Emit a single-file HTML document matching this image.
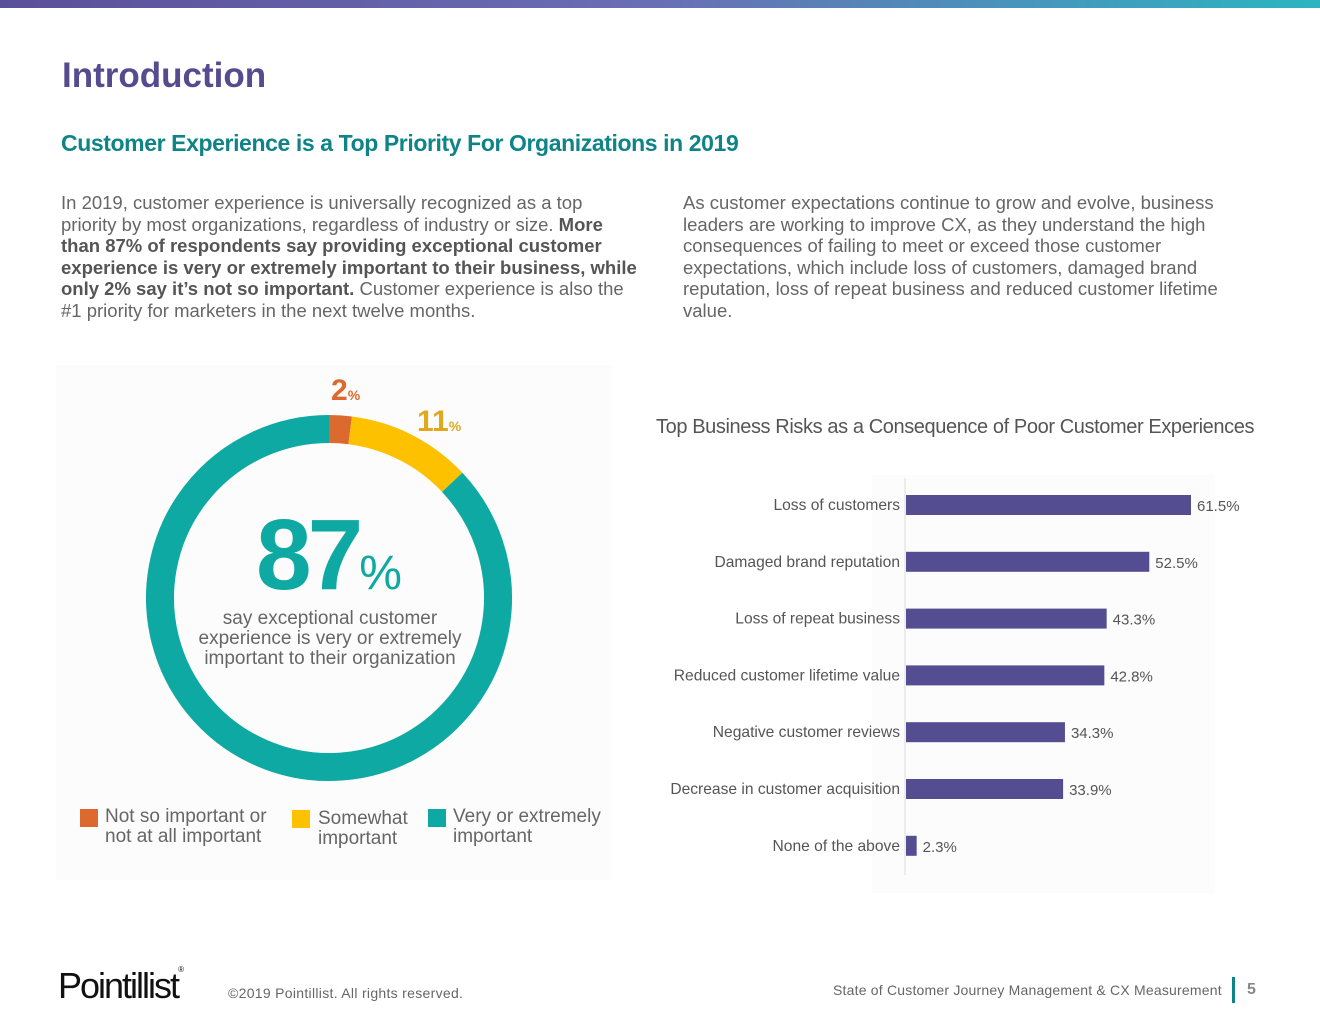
<!DOCTYPE html>
<html><head><meta charset="utf-8"><style>
body{margin:0;width:1320px;height:1020px;background:#fff;font-family:"Liberation Sans",sans-serif;position:relative;overflow:hidden}
.a{position:absolute}
p{margin:0}
</style></head><body>
<div class="a" style="left:0;top:0;width:1320px;height:8px;background:linear-gradient(90deg,#5b4f99,#6a6fb5 50%,#2bb5c0)"></div>
<div class="a" style="left:62px;top:56px;font-size:35px;font-weight:bold;color:#554b8e">Introduction</div>
<div class="a" style="left:61px;top:130px;font-size:23px;letter-spacing:-0.4px;font-weight:bold;color:#0e8488">Customer Experience is a Top Priority For Organizations in 2019</div>
<div class="a" style="left:61px;top:192px;width:580px;font-size:18.5px;line-height:21.6px;color:#666">In 2019, customer experience is universally recognized as a top priority by most organizations, regardless of industry or size. <b style="color:#555">More than 87% of respondents say providing exceptional customer experience is very or extremely important to their business, while only 2% say it’s not so important.</b> Customer experience is also the #1 priority for marketers in the next twelve months.</div>
<div class="a" style="left:683px;top:192px;width:570px;font-size:18.5px;line-height:21.6px;color:#666">As customer expectations continue to grow and evolve, business leaders are working to improve CX, as they understand the high consequences of failing to meet or exceed those customer expectations, which include loss of customers, damaged brand reputation, loss of repeat business and reduced customer lifetime value.</div>

<div class="a" style="left:56px;top:365px;width:556px;height:515px;background:#fcfcfc"></div>
<svg class="a" style="left:0;top:0" width="1320" height="1020" id="donut"></svg>
<div class="a" style="left:150px;top:500px;width:358px;text-align:center;color:#0ea9a2;font-weight:bold;font-size:100px;line-height:110px;letter-spacing:-4px">87<span style="font-size:48px;font-weight:normal;letter-spacing:0">%</span></div>
<div class="a" style="left:180px;top:609px;width:300px;text-align:center;color:#666;font-size:19px;line-height:20px">say exceptional customer experience is very or extremely important to their organization</div>
<div class="a" style="left:331px;top:374px;color:#dc6a2e;font-weight:bold;font-size:30px">2<span style="font-size:14px">%</span></div>
<div class="a" style="left:417px;top:405px;color:#e0a81f;font-weight:bold;font-size:30px">11<span style="font-size:14px">%</span></div>
<div class="a" style="left:80px;top:807px;font-size:19px;line-height:20px;color:#666"><span style="position:absolute;left:0;top:2px;width:18px;height:18px;background:#dc6a2e"></span><div style="margin-left:25px">Not so important or<br>not at all important</div></div>
<div class="a" style="left:292px;top:809px;font-size:19px;line-height:20px;color:#666"><span style="position:absolute;left:0;top:1px;width:18px;height:18px;background:#fdc100"></span><div style="margin-left:26px">Somewhat<br>important</div></div>
<div class="a" style="left:428px;top:807px;font-size:19px;line-height:20px;color:#666"><span style="position:absolute;left:0;top:2px;width:18px;height:18px;background:#0ea9a2"></span><div style="margin-left:25px">Very or extremely<br>important</div></div>

<div class="a" style="left:656px;top:416px;font-size:20px;color:#555;letter-spacing:-0.4px">Top Business Risks as a Consequence of Poor Customer Experiences</div>
<div class="a" style="left:872px;top:475px;width:343px;height:418px;background:#fcfcfc"></div>
<svg class="a" style="left:0;top:0" width="1320" height="1020" id="bars"></svg>

<div class="a" style="left:58px;top:965px;font-size:36px;color:#111;letter-spacing:-2px;font-weight:normal">Pointillist<span style="font-size:8px;vertical-align:top">®</span></div>
<div class="a" style="left:228px;top:985px;font-size:14px;letter-spacing:0.3px;color:#666">©2019 Pointillist. All rights reserved.</div>
<div class="a" style="left:833px;top:982px;font-size:14px;letter-spacing:0.2px;color:#666">State of Customer Journey Management &amp; CX Measurement</div>
<div class="a" style="left:1232px;top:977px;width:3px;height:26px;background:#0e8488"></div>
<div class="a" style="left:1247px;top:981px;font-size:16px;font-weight:bold;color:#888">5</div>

<script>
const donutLabels=["Not so important","Somewhat important","Very or extremely important"];
const donutValues=[2,11,87];
const donutColors=["#dc6a2e","#fdc100","#0ea9a2"];
const barCategories=["Loss of customers","Damaged brand reputation","Loss of repeat business","Reduced customer lifetime value","Negative customer reviews","Decrease in customer acquisition","None of the above"];
const barValues=[61.5,52.5,43.3,42.8,34.3,33.9,2.3];
const barLabels=["61.5%","52.5%","43.3%","42.8%","34.3%","33.9%","2.3%"];
const NS="http://www.w3.org/2000/svg";
(function(){
 const svg=document.getElementById('donut');
 const cx=329,cy=598,r=169,sw=28;
 const total=donutValues.reduce((a,b)=>a+b,0);
 let a0=0;
 donutValues.forEach((v,i)=>{
  const a1=a0+v/total*2*Math.PI;
  const x0=cx+r*Math.sin(a0),y0=cy-r*Math.cos(a0),x1=cx+r*Math.sin(a1),y1=cy-r*Math.cos(a1);
  const p=document.createElementNS(NS,'path');
  p.setAttribute('d',`M${x0},${y0} A${r},${r} 0 ${a1-a0>Math.PI?1:0} 1 ${x1},${y1}`);
  p.setAttribute('fill','none');p.setAttribute('stroke',donutColors[i]);p.setAttribute('stroke-width',sw);
  
  
  svg.appendChild(p);a0=a1;
 });
})();
(function(){
 const svg=document.getElementById('bars');
 const x0=905,scale=285/61.5,top=505,step=56.8,h=20;
 const xs=v=>x0+v*scale, ys=i=>top+i*step;
 const ax=document.createElementNS(NS,'line');
 ax.setAttribute('x1',x0);ax.setAttribute('x2',x0);ax.setAttribute('y1',478);ax.setAttribute('y2',875);ax.setAttribute('stroke','#ddd');
 
 
 svg.appendChild(ax);
 barValues.forEach((v,i)=>{
  const r=document.createElementNS(NS,'rect');
  r.setAttribute('x',x0+1);r.setAttribute('y',ys(i)-h/2);r.setAttribute('width',xs(v)-x0);r.setAttribute('height',h);r.setAttribute('fill','#554d91');
  
  
  svg.appendChild(r);
  const t=document.createElementNS(NS,'text');
  t.setAttribute('x',xs(v)+7);t.setAttribute('y',ys(i)+6);t.setAttribute('font-size','15');t.setAttribute('fill','#555');t.setAttribute('font-family','Liberation Sans, sans-serif');
  t.textContent=barLabels[i];
  
  
  svg.appendChild(t);
  const c=document.createElementNS(NS,'text');
  c.setAttribute('x',x0-5);c.setAttribute('y',ys(i)+5);c.setAttribute('font-size','15.6');c.setAttribute('fill','#555');c.setAttribute('text-anchor','end');c.setAttribute('font-family','Liberation Sans, sans-serif');
  c.textContent=barCategories[i];
  
  
  svg.appendChild(c);
 });
})();
</script>
</body></html>
